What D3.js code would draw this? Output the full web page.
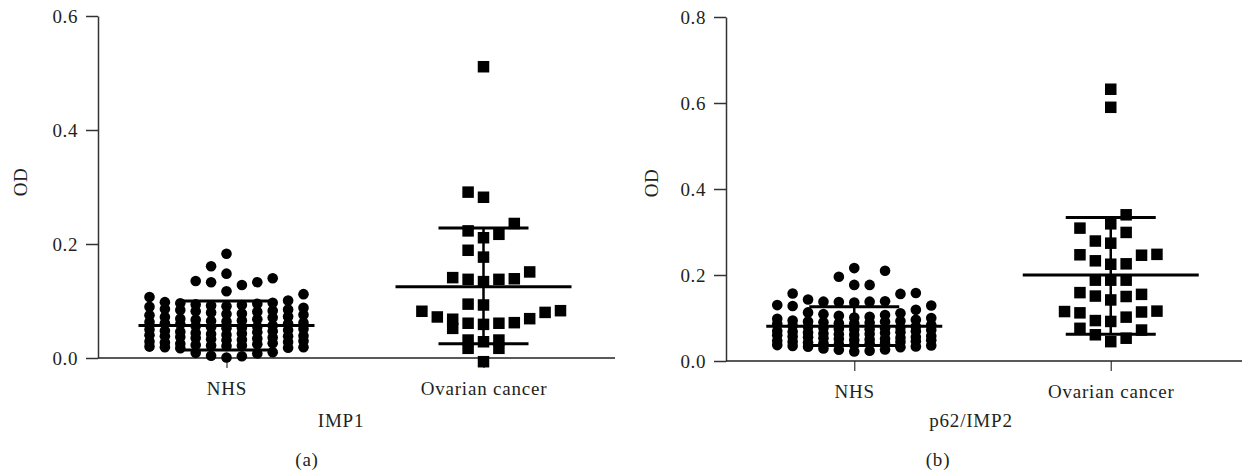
<!DOCTYPE html>
<html>
<head>
<meta charset="utf-8">
<script src="https://cdn.jsdelivr.net/npm/d3@7"></script>
<style>
  html, body { margin: 0; padding: 0; background: #fff; }
  text { font-family: "Liberation Serif", "Times New Roman", serif; fill: #231f20; }
</style>
</head>
<body>
<svg id="chart" width="1242" height="475"></svg>
<script>
// ---------------- DATA ----------------
const categories = ["NHS", "Ovarian cancer"];

// Panel (a): IMP1
const nhsA = [
  0.001, 0.003, 0.004, 0.008, 0.009, 0.010, 0.017, 0.018, 0.019, 0.019, 0.020,
  0.021, 0.022, 0.022, 0.023, 0.024, 0.025, 0.026, 0.027, 0.028, 0.029, 0.030,
  0.031, 0.032, 0.033, 0.034, 0.035, 0.036, 0.037, 0.038, 0.038, 0.039, 0.040,
  0.041, 0.042, 0.043, 0.044, 0.045, 0.046, 0.047, 0.048, 0.049, 0.050, 0.051,
  0.052, 0.053, 0.054, 0.055, 0.056, 0.057, 0.059, 0.060, 0.061, 0.062, 0.063,
  0.064, 0.065, 0.066, 0.067, 0.068, 0.069, 0.071, 0.072, 0.073, 0.075, 0.076,
  0.077, 0.078, 0.080, 0.081, 0.082, 0.083, 0.084, 0.085, 0.086, 0.088, 0.090,
  0.091, 0.092, 0.093, 0.094, 0.095, 0.096, 0.097, 0.098, 0.101, 0.107, 0.112,
  0.117, 0.128, 0.133, 0.133, 0.135, 0.140,
  0.148, 0.161,
  0.183
];
const ovA = [
  -0.0065, 0.017, 0.017,
  0.0285, 0.0315, 0.0315, 0.052,
  0.059, 0.061, 0.061, 0.062, 0.068, 0.069, 0.072, 0.080, 0.082, 0.083,
  0.093, 0.0945,
  0.134, 0.138, 0.138, 0.139, 0.141, 0.151,
  0.177, 0.189,
  0.211, 0.217, 0.223, 0.236,
  0.282, 0.291,
  0.511
];
const meanA = [0.057, 0.125];
const sdLowA = [0.014, 0.025];
const sdHighA = [0.100, 0.228];
const ticksA = [0.0, 0.2, 0.4, 0.6];

// Panel (b): p62/IMP2
const nhsB = [
  0.022, 0.024, 0.026, 0.027, 0.029, 0.032, 0.033, 0.034, 0.035, 0.036, 0.037,
  0.038, 0.039, 0.040, 0.041, 0.042, 0.043, 0.044, 0.045, 0.046, 0.047, 0.048,
  0.049, 0.050, 0.051, 0.052, 0.053, 0.054, 0.055, 0.056, 0.057, 0.058, 0.060,
  0.061, 0.062, 0.063, 0.064, 0.065, 0.066, 0.067, 0.068, 0.069, 0.070, 0.072,
  0.073, 0.074, 0.075, 0.076, 0.077, 0.078, 0.079, 0.080, 0.082, 0.084, 0.086,
  0.087, 0.088, 0.089, 0.090, 0.091, 0.092, 0.093, 0.094, 0.096, 0.098, 0.100,
  0.101, 0.103, 0.105, 0.107, 0.109, 0.111, 0.113, 0.119, 0.128, 0.129, 0.130,
  0.136, 0.137, 0.138, 0.138, 0.139, 0.143, 0.156, 0.157, 0.158,
  0.177, 0.177, 0.196, 0.210,
  0.216
];
const ovB = [
  0.045, 0.053, 0.061, 0.072, 0.076,
  0.092, 0.094, 0.102, 0.112, 0.114, 0.115, 0.116,
  0.142, 0.150, 0.151, 0.155, 0.159,
  0.188, 0.188, 0.188,
  0.225, 0.226, 0.233, 0.246, 0.247, 0.248,
  0.274, 0.279, 0.299, 0.309,
  0.319, 0.340,
  0.590, 0.632
];
const meanB = [0.081, 0.200];
const sdLowB = [0.036, 0.062];
const sdHighB = [0.126, 0.334];
const ticksB = [0.0, 0.2, 0.4, 0.6, 0.8];

const axisTitles = ["IMP1", "p62/IMP2"];
const panelLabels = ["(a)", "(b)"];
const yTitle = "OD";

// ---------------- LAYOUT ----------------
const svg = d3.select("#chart");
const FONT = 19;

const panels = [
  { groups: [nhsA, ovA], mean: meanA, lo: sdLowA, hi: sdHighA, ticks: ticksA, yMax: 0.6,
    axisX: 98, xEnd: 615, y0: 358, yTop: 16, odX: 27, odY: 182,
    titleX: 341, labelX: 307, title: axisTitles[0], label: panelLabels[0] },
  { groups: [nhsB, ovB], mean: meanB, lo: sdLowB, hi: sdHighB, ticks: ticksB, yMax: 0.8,
    axisX: 726, xEnd: 1242, y0: 361, yTop: 17, odX: 658, odY: 183,
    titleX: 971, labelX: 938, title: axisTitles[1], label: panelLabels[1] }
];

// Prism-like scatter: sorted values grouped into rows (limited by height and count),
// each row filled centre-out, alternating side per row.
function rowSwarm(values, y, cx, step, rowH, maxPerRow) {
  const sorted = values.slice().sort((a, b) => a - b);
  const rows = [];
  let cur = null;
  sorted.forEach(v => {
    const py = y(v);
    if (!cur || cur.startY - py >= rowH || cur.items.length >= maxPerRow) {
      cur = { startY: py, items: [] };
      rows.push(cur);
    }
    cur.items.push(v);
  });
  const pts = [];
  rows.forEach((r, ri) => {
    const dir = ri % 2 === 0 ? 1 : -1;
    r.items.forEach((v, i) => {
      const k = i === 0 ? 0 : (i % 2 === 1 ? dir * Math.ceil(i / 2) : -dir * (i / 2));
      pts.push({ v, y: y(v), x: cx + k * step });
    });
  });
  return pts;
}

panels.forEach(P => {
  const g = svg.append("g");
  const y = d3.scaleLinear().domain([0, P.yMax]).range([P.y0, P.yTop]);
  const x = d3.scalePoint().domain(categories).range([P.axisX, P.xEnd - 3]).padding(0.5);

  // y axis
  const yAxis = d3.axisLeft(y).tickValues(P.ticks).tickFormat(d3.format(".1f"))
    .tickSize(12).tickSizeOuter(0).tickPadding(8);
  const ya = g.append("g").attr("transform", `translate(${P.axisX},0)`).call(yAxis);
  ya.select(".domain").attr("stroke", "#333").attr("stroke-width", 1.5);
  ya.selectAll(".tick line").attr("stroke", "#333").attr("stroke-width", 1.5);
  ya.selectAll(".tick text").style("font-size", FONT + "px").attr("fill", "#231f20")
    .style("letter-spacing", "0.6px");

  // x axis
  const xAxis = d3.axisBottom(x).tickSize(10).tickSizeOuter(0).tickPadding(0);
  const xa = g.append("g").attr("transform", `translate(0,${P.y0})`).call(xAxis);
  xa.select(".domain").remove();
  xa.append("line").attr("x1", P.axisX).attr("x2", P.xEnd).attr("y1", 0).attr("y2", 0)
    .attr("stroke", "#222").attr("stroke-width", 1.5);
  xa.selectAll(".tick line").attr("stroke", "#444").attr("stroke-width", 1.3);
  xa.selectAll(".tick text").style("font-size", FONT + "px").attr("fill", "#231f20")
    .attr("y", 37).attr("dy", 0).style("letter-spacing", "0.8px");

  // titles
  g.append("text").attr("transform", `translate(${P.odX},${P.odY}) rotate(-90)`)
    .attr("text-anchor", "middle").style("font-size", FONT + "px").style("letter-spacing", "0.6px")
    .text(yTitle);
  g.append("text").attr("x", P.titleX).attr("y", 427).attr("text-anchor", "middle")
    .style("font-size", FONT + "px").style("letter-spacing", "0.8px").text(P.title);
  g.append("text").attr("x", P.labelX).attr("y", 466).attr("text-anchor", "middle")
    .style("font-size", FONT + "px").style("letter-spacing", "0.8px").text(P.label);

  // points
  const step = 15.4, rowH = 15.5, maxPerRow = 11;
  const nhsPts = rowSwarm(P.groups[0], y, x(categories[0]), step, rowH, maxPerRow);
  const ovPts = rowSwarm(P.groups[1], y, x(categories[1]), step, rowH, maxPerRow);
  g.append("g").selectAll("circle").data(nhsPts).join("circle")
    .attr("cx", d => d.x).attr("cy", d => d.y).attr("r", 5.3).attr("fill", "#000");
  const s = 11.5;
  g.append("g").selectAll("rect").data(ovPts).join("rect")
    .attr("x", d => d.x - s / 2).attr("y", d => d.y - s / 2)
    .attr("width", s).attr("height", s).attr("fill", "#000");

  // mean and SD bars
  const stats = categories.map((c, i) => ({ c, m: P.mean[i], lo: P.lo[i], hi: P.hi[i] }));
  const bars = g.append("g").attr("stroke", "#000");
  bars.selectAll(".v").data(stats).join("line").attr("class", "v")
    .attr("x1", d => x(d.c)).attr("x2", d => x(d.c))
    .attr("y1", d => y(d.lo)).attr("y2", d => y(d.hi)).attr("stroke-width", 2.5);
  bars.selectAll(".mean").data(stats).join("line").attr("class", "mean")
    .attr("x1", d => x(d.c) - 88).attr("x2", d => x(d.c) + 88)
    .attr("y1", d => y(d.m)).attr("y2", d => y(d.m)).attr("stroke-width", 3);
  bars.selectAll(".capHi").data(stats).join("line").attr("class", "capHi")
    .attr("x1", d => x(d.c) - 45).attr("x2", d => x(d.c) + 45)
    .attr("y1", d => y(d.hi)).attr("y2", d => y(d.hi)).attr("stroke-width", 3);
  bars.selectAll(".capLo").data(stats).join("line").attr("class", "capLo")
    .attr("x1", d => x(d.c) - 45).attr("x2", d => x(d.c) + 45)
    .attr("y1", d => y(d.lo)).attr("y2", d => y(d.lo)).attr("stroke-width", 3);
});
</script>
</body>
</html>
